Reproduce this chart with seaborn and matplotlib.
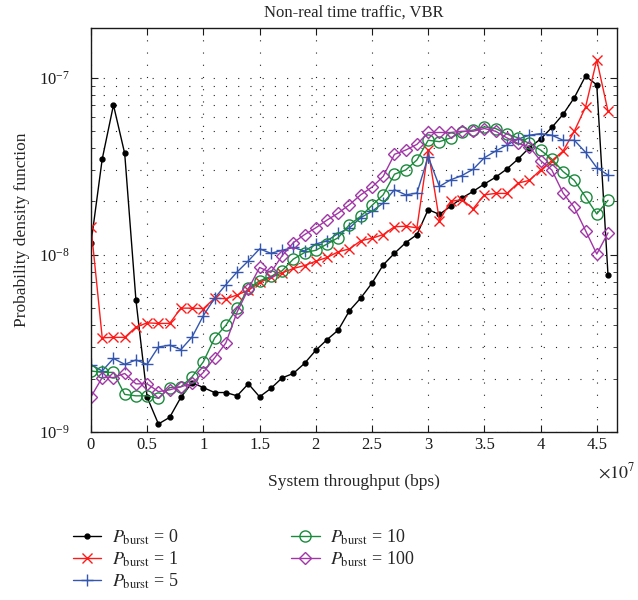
import numpy as np
import pandas as pd
import seaborn as sns
import matplotlib.pyplot as plt
from matplotlib.ticker import FuncFormatter, MultipleLocator, LogLocator, NullFormatter

# dati (x in bps, passo 1e6)
throughput = np.arange(47) * 1e6

p0 = [1.16e-8, 3.47e-8, 7.0e-8, 3.73e-8, 5.55e-9, 1.57e-9, 1.11e-9, 1.21e-9, 1.57e-9, 1.90e-9,
      1.78e-9, 1.67e-9, 1.67e-9, 1.60e-9, 1.87e-9, 1.58e-9, 1.76e-9, 2.02e-9, 2.14e-9, 2.44e-9,
      2.89e-9, 3.32e-9, 3.76e-9, 4.84e-9, 5.70e-9, 6.92e-9, 8.77e-9, 1.02e-8, 1.17e-8, 1.30e-8,
      1.80e-8, 1.69e-8, 1.88e-8, 2.09e-8, 2.28e-8, 2.51e-8, 2.74e-8, 3.05e-8, 3.47e-8, 4.02e-8,
      4.50e-8, 5.23e-8, 6.2e-8, 7.7e-8, 1.02e-7, 9.1e-8, 7.67e-9]
p1 = [1.44e-8, 3.40e-9, 3.42e-9, 3.42e-9, 3.91e-9, 4.13e-9, 4.1e-9, 4.1e-9, 5.0e-9, 5.0e-9,
      4.97e-9, 5.69e-9, 5.65e-9, 5.93e-9, 6.32e-9, 6.98e-9, 7.45e-9, 7.9e-9, 8.37e-9, 8.7e-9,
      9.2e-9, 9.66e-9, 1.04e-8, 1.08e-8, 1.2e-8, 1.24e-8, 1.30e-8, 1.44e-8, 1.45e-8, 1.42e-8,
      3.9e-8, 1.56e-8, 2.0e-8, 2.05e-8, 1.82e-8, 2.18e-8, 2.22e-8, 2.22e-8, 2.54e-8, 2.63e-8,
      3.01e-8, 3.4e-8, 3.85e-8, 4.98e-8, 6.82e-8, 1.26e-7, 6.45e-8]
p5 = [2.4e-9, 2.21e-9, 2.6e-9, 2.41e-9, 2.55e-9, 2.41e-9, 3.02e-9, 3.09e-9, 2.92e-9, 3.44e-9,
      4.54e-9, 5.69e-9, 6.78e-9, 8.0e-9, 9.24e-9, 1.08e-8, 1.02e-8, 1.06e-8, 1.1e-8, 1.05e-8,
      1.15e-8, 1.2e-8, 1.32e-8, 1.42e-8, 1.62e-8, 1.76e-8, 1.96e-8, 2.33e-8, 2.18e-8, 2.23e-8,
      3.58e-8, 2.43e-8, 2.65e-8, 2.8e-8, 3.04e-8, 3.53e-8, 3.85e-8, 4.16e-8, 4.5e-8, 4.73e-8,
      4.83e-8, 4.73e-8, 4.43e-8, 4.43e-8, 3.79e-8, 3.1e-8, 2.82e-8]
p10 = [2.21e-9, 2.17e-9, 2.17e-9, 1.63e-9, 1.6e-9, 1.6e-9, 1.55e-9, 1.78e-9, 1.8e-9, 2.05e-9,
       2.49e-9, 3.39e-9, 4.0e-9, 5.0e-9, 6.47e-9, 7.13e-9, 7.55e-9, 8.12e-9, 9.45e-9, 1.03e-8,
       1.06e-8, 1.15e-8, 1.25e-8, 1.48e-8, 1.65e-8, 1.9e-8, 2.18e-8, 2.85e-8, 3.01e-8, 3.43e-8,
       4.43e-8, 4.35e-8, 4.57e-8, 4.94e-8, 5.05e-8, 5.27e-8, 5.16e-8, 4.8e-8, 4.57e-8, 4.25e-8,
       3.9e-8, 3.47e-8, 2.95e-8, 2.63e-8, 2.12e-8, 1.7e-8, 2.03e-8]
p100 = [1.58e-9, 2.03e-9, 2.03e-9, 2.14e-9, 1.87e-9, 1.87e-9, 1.69e-9, 1.73e-9, 1.80e-9, 1.88e-9,
        2.17e-9, 2.62e-9, 3.18e-9, 4.75e-9, 6.41e-9, 8.48e-9, 7.95e-9, 9.87e-9, 1.17e-8, 1.3e-8,
        1.42e-8, 1.57e-8, 1.72e-8, 1.92e-8, 2.18e-8, 2.41e-8, 2.77e-8, 3.69e-8, 3.9e-8, 4.2e-8,
        4.9e-8, 4.9e-8, 4.9e-8, 4.98e-8, 4.98e-8, 5.16e-8, 4.98e-8, 4.57e-8, 4.25e-8, 4.07e-8,
        3.4e-8, 3.01e-8, 2.23e-8, 1.85e-8, 1.37e-8, 1.01e-8, 1.33e-8]

bursts = ['0', '1', '5', '10', '100']
series = [p0, p1, p5, p10, p100]

df = pd.concat([pd.DataFrame({'throughput': throughput, 'pdf': s, 'burst': b})
                for b, s in zip(bursts, series)], ignore_index=True)

# stile
sns.set_theme(style="ticks", rc={"xtick.direction": "in", "ytick.direction": "in",
                                 "xtick.top": True, "ytick.right": True})
plt.rcParams['font.family'] = ['Liberation Serif', 'DejaVu Serif']
plt.rcParams['mathtext.fontset'] = 'stix'

colors = ['#000000', '#ff1a1a', '#3356b0', '#1a8a3c', '#a235a8']
markers = ['.', 'x', '+', 'o', 'D']
msizes = [7, 7, 9, 8, 6.5]

fig = plt.figure(figsize=(6.38, 6.0), dpi=100)
ax = fig.add_axes([0.1426, 0.28, 0.8245, 0.673])

for b, c, m, ms in zip(bursts, colors, markers, msizes):
    sub = df[df['burst'] == b]
    filled = m in ('.', 'x', '+')
    sns.lineplot(data=sub, x='throughput', y='pdf', ax=ax, color=c, marker=m,
                 markersize=ms, linewidth=1.0,
                 markerfacecolor=c if filled else 'none', markeredgecolor=c,
                 markeredgewidth=1.0,
                 label=r'$P_{\mathrm{burst}}$ = ' + b)

ax.set_yscale('log')
ax.set_xlim(0, 4.68e7)
ax.set_ylim(1e-9, 1.9e-7)

ax.xaxis.set_major_locator(MultipleLocator(5e6))
ax.xaxis.set_major_formatter(FuncFormatter(lambda v, p: '%g' % (v / 1e7)))
ax.yaxis.set_major_locator(LogLocator(base=10))
ax.yaxis.set_minor_locator(LogLocator(base=10, subs=np.arange(2, 10)))
ax.yaxis.set_minor_formatter(NullFormatter())

# griglia a puntini radi, stile MATLAB
dots = (0, (1, 10))
ax.grid(True, which='major', axis='x', linestyle=dots, color='#222222', linewidth=0.8)
ax.grid(True, which='both', axis='y', linestyle=dots, color='#222222', linewidth=0.8)
ax.tick_params(which='major', length=5, width=0.8, labelsize=12, colors='k')
ax.tick_params(axis='y', which='major', pad=15)
ax.tick_params(which='minor', length=3, width=0.6)
for sp in ax.spines.values():
    sp.set_color('k')
    sp.set_linewidth(1.0)

ax.set_title('Non-real time traffic, VBR', fontsize=12, pad=8)
ax.set_xlabel('System throughput (bps)', fontsize=12.5, labelpad=15)
ax.set_ylabel('Probability density function', fontsize=12.5, labelpad=7)
ax.text(1.0, -0.1, r'$\times 10^{7}$', transform=ax.transAxes, fontsize=13,
        ha='center', va='center')

ax.get_legend().remove()
handles, labels = ax.get_legend_handles_labels()
fig.legend(handles, labels, loc='upper left', bbox_to_anchor=(0.108, 0.127),
           ncol=2, frameon=False, fontsize=13, handlelength=1.6, handletextpad=0.6,
           columnspacing=6.2, labelspacing=0.15, borderaxespad=0, borderpad=0.2)

plt.savefig('out.png', dpi=100)
